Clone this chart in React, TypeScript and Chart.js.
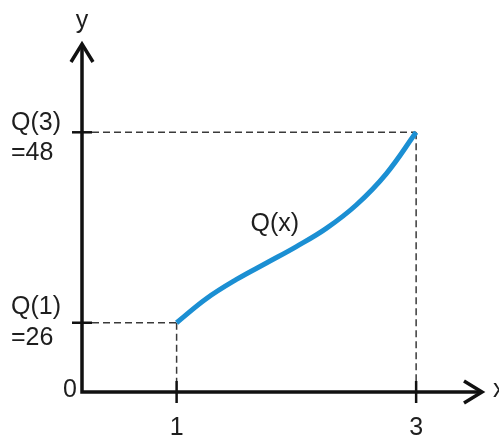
import { useEffect, useRef } from 'react';
import { Chart, registerables } from 'chart.js';

Chart.register(...registerables);

// Sampled values of Q(x) between x = 1 and x = 3
const xValues = [1, 1.25, 1.5, 1.75, 2, 2.25, 2.5, 2.75, 3];
const qValues = [26, 28.8, 31.0, 32.9, 34.8, 36.9, 39.6, 43.2, 48];

// Marked points on each axis and their labels
const xTicks = [1, 3];
const xTickLabels = ['1', '3'];
const yTicks = [26, 48];
const yTickLabels = [
  ['Q(1)', '=26'],
  ['Q(3)', '=48'],
];
const originLabel = '0';
const xAxisTitle = 'x';
const yAxisTitle = 'y';
const curveLabel = 'Q(x)';
const curveLabelAt = [1.82, 37.45];

// Visible extent of the two axes (the axes meet at the lower-left corner)
const xRange = [0.21, 3.55];
const yRange = [18, 58.2];

// Layout of the two-line labels on the y axis: baseline offsets from the tick
const yLabelBaselines = [
  [-9, 22],
  [-2.5, 27.5],
];

const FONT = '25px "Liberation Sans", Arial, Helvetica, sans-serif';
const TEXT = '#1e1e1e';
const AXIS = '#111';
const CURVE = '#1b8fd3';

const sketchAxes = {
  id: 'sketchAxes',
  beforeDatasetsDraw(chart: any) {
    const { ctx } = chart;
    const xs = chart.scales.x;
    const ys = chart.scales.y;
    const left = xs.getPixelForValue(xRange[0]);
    const right = xs.getPixelForValue(xRange[1]);
    const bottom = ys.getPixelForValue(yRange[0]);
    const top = ys.getPixelForValue(yRange[1]);

    ctx.save();

    // dashed guides from each marked point to the axes
    ctx.strokeStyle = '#3a3a3a';
    ctx.lineWidth = 1.5;
    ctx.setLineDash([7, 4]);
    for (let i = 0; i < xTicks.length; i++) {
      const px = xs.getPixelForValue(xTicks[i]);
      const py = ys.getPixelForValue(yTicks[i]);
      ctx.beginPath();
      ctx.moveTo(left + 10, py);
      ctx.lineTo(px, py);
      ctx.stroke();
      ctx.beginPath();
      ctx.moveTo(px, py);
      ctx.lineTo(px, bottom - 11);
      ctx.stroke();
    }
    ctx.setLineDash([]);

    // axes
    ctx.strokeStyle = AXIS;
    ctx.lineWidth = 3.5;
    ctx.lineJoin = 'miter';
    ctx.beginPath();
    ctx.moveTo(left, top + 1);
    ctx.lineTo(left, bottom);
    ctx.lineTo(right - 1, bottom);
    ctx.stroke();

    // arrow heads
    ctx.beginPath();
    ctx.moveTo(left - 11, top + 18);
    ctx.lineTo(left, top);
    ctx.lineTo(left + 11, top + 18);
    ctx.stroke();
    ctx.beginPath();
    ctx.moveTo(right - 18, bottom - 11);
    ctx.lineTo(right, bottom);
    ctx.lineTo(right - 18, bottom + 11);
    ctx.stroke();

    // tick marks crossing the axes
    ctx.lineWidth = 2.5;
    xTicks.forEach((v) => {
      const px = xs.getPixelForValue(v);
      ctx.beginPath();
      ctx.moveTo(px, bottom - 11);
      ctx.lineTo(px, bottom + 11);
      ctx.stroke();
    });
    yTicks.forEach((v) => {
      const py = ys.getPixelForValue(v);
      ctx.beginPath();
      ctx.moveTo(left - 10, py);
      ctx.lineTo(left + 10, py);
      ctx.stroke();
    });

    // labels
    ctx.fillStyle = TEXT;
    ctx.font = FONT;
    ctx.textBaseline = 'alphabetic';

    ctx.textAlign = 'center';
    xTicks.forEach((v, i) => {
      ctx.fillText(xTickLabels[i], xs.getPixelForValue(v), bottom + 43);
    });

    ctx.textAlign = 'left';
    yTicks.forEach((v, i) => {
      const py = ys.getPixelForValue(v);
      yTickLabels[i].forEach((line, j) => {
        ctx.fillText(line, 11, py + yLabelBaselines[i][j]);
      });
    });

    ctx.textAlign = 'right';
    ctx.fillText(originLabel, left - 5, bottom + 5);

    ctx.textAlign = 'center';
    ctx.fillText(yAxisTitle, left, top - 16);

    ctx.textAlign = 'left';
    ctx.fillText(xAxisTitle, right + 11, bottom + 5);

    ctx.textAlign = 'center';
    ctx.textBaseline = 'middle';
    ctx.fillText(
      curveLabel,
      xs.getPixelForValue(curveLabelAt[0]),
      ys.getPixelForValue(curveLabelAt[1])
    );

    ctx.restore();
  },
};

export default function App() {
  const canvasRef = useRef<HTMLCanvasElement | null>(null);

  useEffect(() => {
    if (!canvasRef.current) return;
    const chart = new Chart(canvasRef.current, {
      type: 'line',
      data: {
        datasets: [
          {
            label: 'Q(x)',
            data: xValues.map((x, i) => ({ x, y: qValues[i] })),
            borderColor: CURVE,
            borderWidth: 5,
            borderCapStyle: 'butt',
            tension: 0.4,
            pointRadius: 0,
            fill: false,
          },
        ],
      },
      options: {
        animation: false,
        responsive: true,
        maintainAspectRatio: false,
        layout: { padding: { left: 82, right: 17, top: 44, bottom: 45 } },
        scales: {
          x: { type: 'linear', display: false, min: xRange[0], max: xRange[1] },
          y: { type: 'linear', display: false, min: yRange[0], max: yRange[1] },
        },
        plugins: {
          legend: { display: false },
          tooltip: { enabled: false },
        },
      },
      plugins: [sketchAxes],
    });
    return () => chart.destroy();
  }, []);

  return (
    <div
      style={{
        position: 'fixed',
        left: 0,
        top: 0,
        width: 499,
        height: 437,
        background: '#fff',
      }}
    >
      <canvas ref={canvasRef} />
    </div>
  );
}
